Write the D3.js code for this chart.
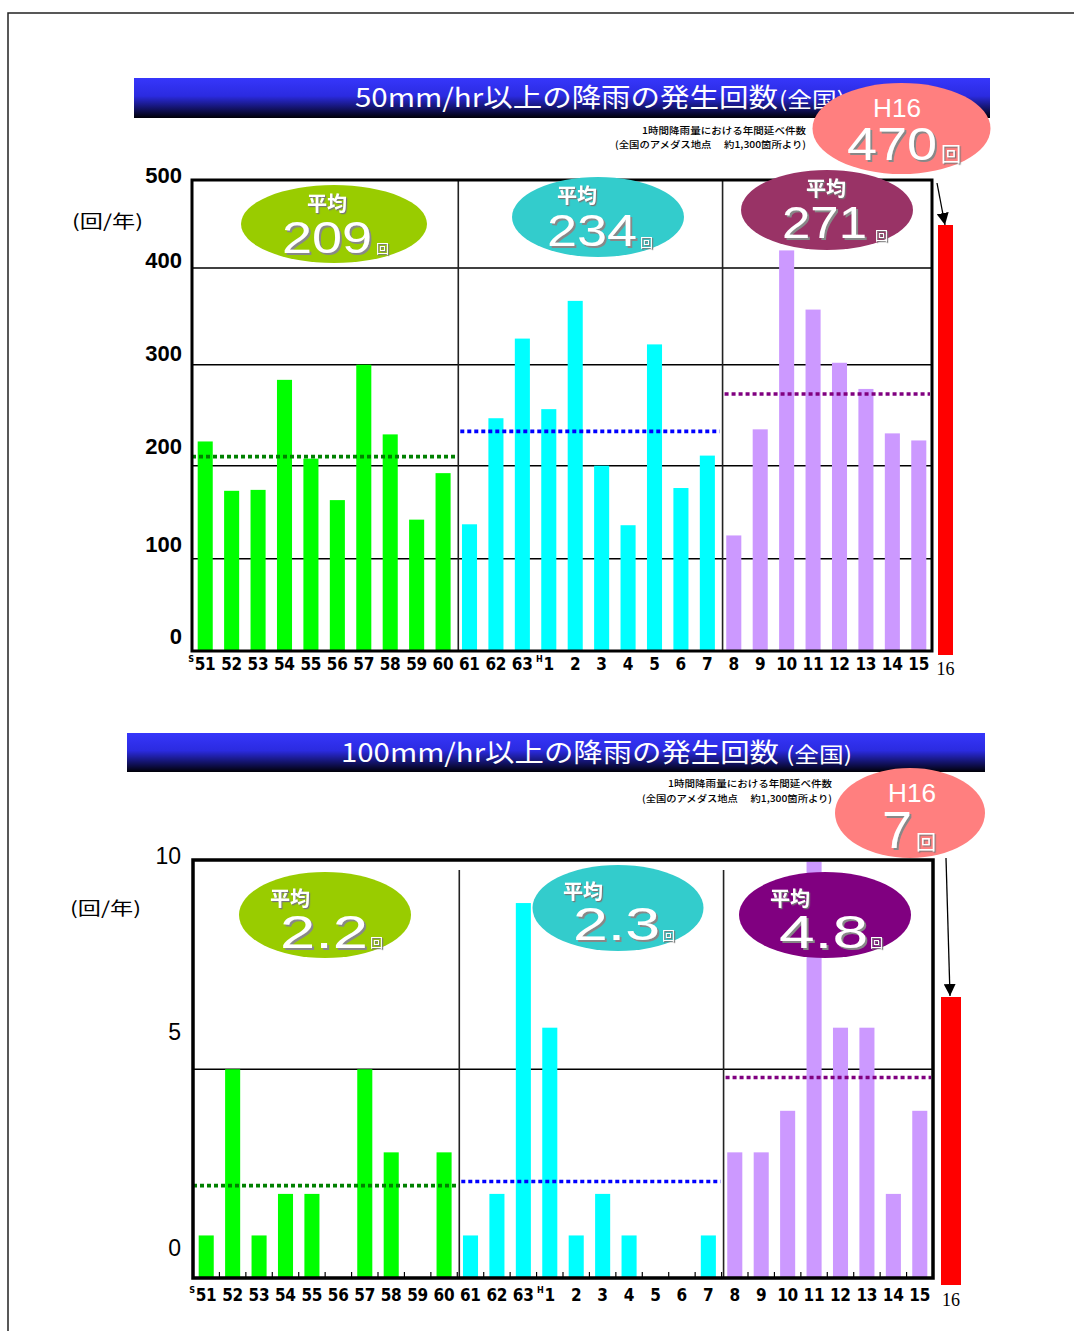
<!DOCTYPE html>
<html><head><meta charset="utf-8">
<script src="https://cdn.jsdelivr.net/npm/d3@7"></script>
<style>body{margin:0;background:#fff}svg{display:block}</style>
</head><body>
<svg id="c" width="1074" height="1331"></svg>
<script>
// ---------- data ----------
const categories = ["S51","S52","S53","S54","S55","S56","S57","S58","S59","S60",
  "S61","S62","S63","H1","H2","H3","H4","H5","H6","H7",
  "H8","H9","H10","H11","H12","H13","H14","H15"];
const tickLabels = ["51","52","53","54","55","56","57","58","59","60",
  "61","62","63","1","2","3","4","5","6","7",
  "8","9","10","11","12","13","14","15"];
const eraMarks = [{cat:"S51", text:"S"}, {cat:"H1", text:"H"}];
const counts50 = [224,173,174,285,207,163,300,231,142,192,
  137,247,327,256,366,200,136,321,176,210,
  125,236,420,357,302,276,232,225];
const counts100 = [1,5,1,2,2,0,5,3,0,3,
  1,2,9,6,1,2,1,0,0,1,
  3,3,4,10,6,6,2,4];
const groupStart = [0,10,20];
const avg50 = [209,234,271];
const avg50Text = ["209","234","271"];
const avg100 = [2.2,2.3,4.8];
const avg100Text = ["2.2","2.3","4.8"];
const h16Cat = "16";
const h16Name = "H16";
const h16Value50 = 470;
const h16Value100 = 7;
const yTicks50 = [0,100,200,300,400,500];
const yTicks100 = [0,5,10];
const grid50 = [100,200,300,400];
const grid100 = [5];
const title50 = "50mm/hr以上の降雨の発生回数";
const title100 = "100mm/hr以上の降雨の発生回数";
const titleSuffix = "(全国)";
const noteLines = ["1時間降雨量における年間延べ件数", "(全国のアメダス地点　 約1,300箇所より)"];
const unitLabel = "(回/年)";
const avgWord = "平均";
const countUnit = "回";

// ---------- styles ----------
const barColors = ["#00ff00","#00ffff","#cc99ff"];
const avgLineColors = ["#008000","#0000ff","#800080"];
const ellColors50 = ["#99cc00","#33cccc","#993366"];
const ellColors100 = ["#99cc00","#33cccc","#800080"];
const h16Color = "#ff7f7f";
const groupOf = i => i < groupStart[1] ? 0 : (i < groupStart[2] ? 1 : 2);

const svg = d3.select("#c");
const defs = svg.append("defs");
const grad = defs.append("linearGradient").attr("id","tg").attr("x1",0).attr("y1",0).attr("x2",0).attr("y2",1);
grad.append("stop").attr("offset","0%").attr("stop-color","#3636fb");
grad.append("stop").attr("offset","45%").attr("stop-color","#2b2be0");
grad.append("stop").attr("offset","100%").attr("stop-color","#000008");
defs.append("marker").attr("id","arr").attr("markerUnits","userSpaceOnUse")
  .attr("markerWidth",12).attr("markerHeight",12).attr("refX",10).attr("refY",5)
  .attr("orient","auto").attr("viewBox","0 0 10 10")
  .append("path").attr("d","M0,0 L10,5 L0,10 z").attr("fill","#000");
[["sh2",2,"#888"],["sh1",1.2,"#777"]].forEach(([id,off,col]) => {
  defs.append("filter").attr("id",id).attr("x","-10%").attr("y","-20%").attr("width","130%").attr("height","150%")
    .append("feDropShadow").attr("dx",off).attr("dy",off).attr("stdDeviation",0.3)
    .attr("flood-color",col).attr("flood-opacity",1);
});

// page border
svg.append("path").attr("d","M8,1331 L8,13 L1074,13").attr("fill","none").attr("stroke","#222").attr("stroke-width",1.5);

function shadowText(g, x, y, txt, opts) {
  const t = g.append("text").attr("x", x).attr("y", y).text(txt)
    .attr("font-family", opts.family).attr("font-size", opts.size)
    .attr("font-weight", opts.weight || "normal").attr("fill", "#fff")
    .attr("text-anchor", opts.anchor || "start")
    .attr("filter", "url(#" + (opts.f || "sh2") + ")");
  if (opts.len) t.attr("textLength", opts.len).attr("lengthAdjust","spacingAndGlyphs");
  return t;
}

function drawChart(cfg) {
  const g = svg.append("g");
  const x = d3.scaleBand().domain(categories).range([cfg.fx0, cfg.fx1])
    .paddingInner(0.43).paddingOuter(0.215);
  const y = d3.scaleLinear().domain(cfg.yDomain).range(cfg.yRange);
  const yLab = d3.scaleLinear().domain(cfg.labDomain).range(cfg.labRange);

  // title bar
  g.append("rect").attr("x",cfg.tb[0]).attr("y",cfg.tb[1]).attr("width",cfg.tb[2]-cfg.tb[0]).attr("height",cfg.tb[3]-cfg.tb[1]).attr("fill","url(#tg)");
  g.append("text").attr("x",cfg.tt[0]).attr("y",cfg.tt[2]).text(cfg.title)
    .attr("font-family","'Noto Sans CJK JP','Noto Sans',sans-serif").attr("font-size",26).attr("fill","#fff")
    .attr("textLength",cfg.tt[1]-cfg.tt[0]).attr("lengthAdjust","spacingAndGlyphs");
  g.append("text").attr("x",cfg.ts[0]).attr("y",cfg.tt[2]).text(titleSuffix)
    .attr("font-family","'Noto Sans CJK JP',sans-serif").attr("font-size",21).attr("fill","#fff")
    .attr("textLength",cfg.ts[1]-cfg.ts[0]).attr("lengthAdjust","spacingAndGlyphs");

  // notes
  noteLines.forEach((t,i) => {
    g.append("text").attr("x",cfg.note[i][0]).attr("y",cfg.note[i][2]).text(t)
      .attr("font-family","'Noto Sans CJK JP',sans-serif").attr("font-size",9.5).attr("font-weight",500).attr("fill","#000")
      .attr("textLength",cfg.note[i][1]-cfg.note[i][0]).attr("lengthAdjust","spacingAndGlyphs");
  });

  // gridlines
  cfg.grid.forEach(v => g.append("line").attr("x1",cfg.fx0).attr("x2",cfg.fx1).attr("y1",y(v)).attr("y2",y(v)).attr("stroke","#000").attr("stroke-width",1.6));
  // separators
  [groupStart[1], groupStart[2]].forEach(k => {
    const sx = x(categories[k]) - x.step()*x.paddingInner()/2 + 2;
    g.append("line").attr("x1",sx).attr("x2",sx).attr("y1",cfg.sepTop).attr("y2",cfg.fy1).attr("stroke","#222").attr("stroke-width",1.6);
  });

  // bars
  g.selectAll("rect.bar").data(cfg.values).join("rect").attr("class","bar")
    .attr("x",(d,i)=>x(categories[i])).attr("width",x.bandwidth())
    .attr("y",d=>y(d)).attr("height",d=>y(0)-y(d))
    .attr("fill",(d,i)=>barColors[groupOf(i)]);

  // average lines
  cfg.avgs.forEach((a,k) => {
    const i0 = groupStart[k], i1 = (k < 2 ? groupStart[k+1] : categories.length) - 1;
    const xa = k === 0 ? cfg.fx0 : x(categories[i0]) - x.step()*x.paddingInner()/2 + 4;
    const xb = k === 2 ? cfg.fx1 - 2 : x(categories[i1]) + x.bandwidth() + x.step()*x.paddingInner()/2 - 1;
    g.append("line").attr("x1",xa).attr("x2",xb).attr("y1",y(a)).attr("y2",y(a))
      .attr("stroke",avgLineColors[k]).attr("stroke-width",3.6).attr("stroke-dasharray","4,3");
  });

  // bottom ticks
  if (cfg.ticks) {
    categories.forEach((c,i) => {
      if (i === 0) return;
      const tx = x(c) - x.step()*x.paddingInner()/2;
      g.append("line").attr("x1",tx).attr("x2",tx).attr("y1",cfg.fy1).attr("y2",cfg.fy1-6).attr("stroke","#000").attr("stroke-width",1.2);
    });
  }

  // frame
  g.append("rect").attr("x",cfg.fx0).attr("y",cfg.fy0).attr("width",cfg.fx1-cfg.fx0).attr("height",cfg.fy1-cfg.fy0)
    .attr("fill","none").attr("stroke","#000").attr("stroke-width",cfg.frameW);

  // y tick labels
  cfg.yTicks.forEach(v => {
    g.append("text").attr("x",cfg.labX).attr("y",yLab(v)).attr("dy","0.36em").text(v)
      .attr("text-anchor","end").attr("font-family","'Liberation Sans',Arial,sans-serif")
      .attr("font-size",cfg.labSize).attr("font-weight",cfg.labWeight).attr("fill","#000");
  });
  g.append("text").attr("x",cfg.unit[0]).attr("y",cfg.unit[1]).attr("dy","0.36em").text(unitLabel)
    .attr("font-family","'Noto Sans CJK JP',sans-serif").attr("font-size",18).attr("fill","#000")
    .attr("textLength",cfg.unit[2]).attr("lengthAdjust","spacingAndGlyphs");

  // x labels
  const labFont = "'DejaVu Sans Condensed','DejaVu Sans',sans-serif";
  categories.forEach((c,i) => {
    g.append("text").attr("x",x(c)+x.bandwidth()/2).attr("y",cfg.xlabY).text(tickLabels[i])
      .attr("text-anchor","middle").attr("font-family",labFont).attr("font-weight","bold")
      .attr("font-size",17).attr("fill","#000").attr("textLength",tickLabels[i].length > 1 ? 21 : null);
  });
  eraMarks.forEach(m => {
    g.append("text").attr("x",x(m.cat)+x.bandwidth()/2 - (m.cat==="H1"?6:11)).attr("y",cfg.xlabY-8)
      .text(m.text).attr("text-anchor","end").attr("font-family",labFont).attr("font-weight","bold")
      .attr("font-size",9).attr("fill","#000");
  });

  // H16 red bar (annotation scale)
  const yH = d3.scaleLinear().domain([0,cfg.h16Value]).range([cfg.h16Bar[3], cfg.h16Bar[1]]);
  g.append("rect").attr("x",cfg.h16Bar[0]).attr("width",cfg.h16Bar[2]-cfg.h16Bar[0])
    .attr("y",yH(cfg.h16Value)).attr("height",yH(0)-yH(cfg.h16Value)).attr("fill","#ff0000");
  g.append("text").attr("x",(cfg.h16Bar[0]+cfg.h16Bar[2])/2).attr("y",cfg.h16LabY).text(h16Cat)
    .attr("text-anchor","middle").attr("font-family","'Liberation Serif','DejaVu Serif',serif")
    .attr("font-size",18).attr("fill","#000");
  g.append("line").attr("x1",cfg.arrow[0]).attr("y1",cfg.arrow[1]).attr("x2",cfg.arrow[2]).attr("y2",cfg.arrow[3])
    .attr("stroke","#000").attr("stroke-width",1.3).attr("marker-end","url(#arr)");

  // average ellipses
  cfg.ells.forEach((e,k) => {
    g.append("ellipse").attr("cx",e.cx).attr("cy",e.cy).attr("rx",e.rx).attr("ry",e.ry).attr("fill",cfg.ellColors[k]);
    shadowText(g, e.hx, e.hy, avgWord, {family:"'Noto Sans CJK JP',sans-serif", size:20, weight:"bold", anchor:"middle", f:"sh1"});
    shadowText(g, e.n[0], e.n[2], cfg.avgText[k], {family:"'Liberation Sans',Arial,sans-serif", size:cfg.numSize, len:e.n[1]-e.n[0]});
    shadowText(g, e.k[0], e.k[1], countUnit, {family:"'Noto Sans CJK JP',sans-serif", size:13, f:"sh1"});
  });

  // H16 ellipse
  const h = cfg.h16Ell;
  g.append("ellipse").attr("cx",h.cx).attr("cy",h.cy).attr("rx",h.rx).attr("ry",h.ry).attr("fill",h16Color);
  g.append("text").attr("x",h.hx).attr("y",h.hy).text(h16Name).attr("text-anchor","middle")
    .attr("font-family","'Liberation Sans',Arial,sans-serif").attr("font-size",25).attr("fill","#fff")
    .attr("textLength",h.hl).attr("lengthAdjust","spacingAndGlyphs");
  shadowText(g, h.n[0], h.n[2], String(cfg.h16Value), {family:"'Liberation Sans',Arial,sans-serif", size:h.ns, len:h.n[1]-h.n[0]});
  shadowText(g, h.k[0], h.k[1], countUnit, {family:"'Noto Sans CJK JP',sans-serif", size:20, f:"sh1"});
}

// ---------- chart 1 : 50mm/hr ----------
drawChart({
  title: title50,
  values: counts50, avgs: avg50, avgText: avg50Text,
  fx0:192, fx1:932, fy0:180, fy1:651, frameW:3, sepTop:180,
  yDomain: yTicks50, yRange:[651,558.7,465.7,364.7,268,180],
  labDomain: yTicks50, labRange:[636,544,446.5,353,260.5,175],
  yTicks: yTicks50, grid: grid50, labX:182, labSize:22, labWeight:"bold",
  unit:[72,222,71],
  tb:[134,78,990,118], tt:[355,778,107], ts:[779,845],
  note:[[642,806,134],[615,806,148]],
  xlabY:670, ticks:false,
  h16Value:h16Value50, h16Bar:[938,225,953,655], h16LabY:675, arrow:[937,183,945,225],
  ellColors: ellColors50, numSize:44,
  ells:[
    {cx:334, cy:224, rx:93, ry:39, hx:327, hy:211, n:[282,372,253], k:[376,253]},
    {cx:598, cy:217, rx:86, ry:40, hx:577, hy:203, n:[547,637,246], k:[640,247]},
    {cx:827, cy:210, rx:86, ry:40, hx:826, hy:196, n:[782,867,238], k:[875,240]}
  ],
  h16Ell:{cx:901.5, cy:128.5, rx:89, ry:45.5, hx:897, hy:117, hl:48, n:[847,937,160], ns:46, k:[941,162]}
});

// ---------- chart 2 : 100mm/hr ----------
drawChart({
  title: title100,
  values: counts100, avgs: avg100, avgText: avg100Text,
  fx0:193, fx1:933, fy0:860, fy1:1278, frameW:3.5, sepTop:870,
  yDomain:[0,10], yRange:[1277,861.5],
  labDomain: yTicks100, labRange:[1248,1032,856],
  yTicks: yTicks100, grid: grid100, labX:181, labSize:23, labWeight:"normal",
  unit:[70,909,71],
  tb:[127,733,985,772], tt:[341,779,762], ts:[786,852],
  note:[[668,832,787],[642,832,802]],
  xlabY:1301, ticks:true,
  h16Value:h16Value100, h16Bar:[941,997,961,1285], h16LabY:1306, arrow:[946,858,950,996],
  ellColors: ellColors100, numSize:46,
  ells:[
    {cx:325, cy:915, rx:86, ry:43, hx:290, hy:906, n:[280,368,948], k:[370,947]},
    {cx:618, cy:908, rx:85.5, ry:43, hx:583, hy:899, n:[573,660,940], k:[662,940]},
    {cx:825, cy:915, rx:86, ry:43, hx:790, hy:906, n:[779,868,948], k:[870,947]}
  ],
  h16Ell:{cx:910, cy:813, rx:75, ry:45, hx:912, hy:802, hl:48, n:[882,912,848], ns:52, k:[916,850]}
});
</script>
</body></html>
